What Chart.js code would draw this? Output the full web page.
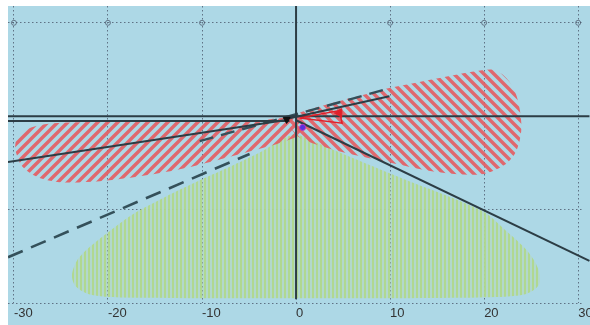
<!DOCTYPE html>
<html><head><meta charset="utf-8">
<script src="https://cdn.jsdelivr.net/npm/chart.js@4"></script>
<style>html,body{margin:0;padding:0;background:#fff;} canvas{display:block;}</style>
</head><body>
<canvas id="c" width="590" height="325"></canvas>
<script>
// ---- data ----
const xTicks = [-30, -20, -10, 0, 10, 20, 30];
const xTickLabels = ['-30', '-20', '-10', '0', '10', '20', '30'];

// left lobe of red region ("/" hatch)
const redLeftX = [-29.9, -29.67, -28.5, -26.7, -23.0, -15.55, -4.94, -0.69, 0.58, 0.37, -1.22, -4.94, -8.12, -12.37, -16.6, -20.86, -25.1, -27.44, -29.14, -29.9];
const redLeftY = [-3.56, -2.29, -1.33, -0.85, -0.65, -0.6, -0.55, -0.16, -0.8, -1.97, -2.71, -3.78, -4.63, -5.69, -6.44, -6.97, -7.07, -6.54, -5.37, -3.56];

// right lobe of red region ("\" hatch)
const redRightX = [-1.11, 0.37, 2.81, 6.74, 9.93, 13.11, 16.3, 19.27, 21.07, 22.35, 23.3, 23.83, 23.94, 23.4, 22.24, 19.69, 15.23, 9.93, 3.87, 0.37, -1.11];
const redRightY = [-0.59, 0.37, 1.12, 2.18, 3.03, 3.67, 4.31, 4.84, 4.95, 4.1, 2.6, 0.48, -1.65, -3.78, -5.16, -6.22, -6.01, -4.95, -3.56, -2.29, -0.59];

// green region (vertical hatch)
const greenX = [-0.05, 3.87, 10.99, 19.8, 22.35, 24.58, 25.74, 25.85, 24.26, 19.48, 0.37, -18.74, -21.92, -23.41, -23.83, -23.3, -21.92, -19.8, -17.14, -13.96, -10.24, -6.74, -3.66, -1.54, -0.05];
const greenY = [-1.86, -3.56, -6.54, -10.16, -12.29, -14.41, -16.33, -18.03, -19.1, -19.41, -19.5, -19.41, -19.1, -18.24, -17.07, -15.48, -13.99, -12.29, -10.37, -8.67, -6.86, -5.27, -3.78, -2.5, -1.86];

// straight lines
const axisHX = [-30.63, 31.2], axisHY = [0, 0];
const lowHX = [-30.63, -0.7], lowHY = [-0.5, -0.5];
const axisVX = [0, 0], axisVY = [11.8, -19.6];
const solidLeftX = [-30.63, -1.22], solidLeftY = [-4.9, -0.43];
const solidMidX = [-0.69, 9.93], solidMidY = [-0.21, 2.13];
const solidRightX = [0, 31.2], solidRightY = [-0.43, -15.5];
const dashLowX = [-30.63, -4.94], dashLowY = [-15.1, -4.04];
const dashMidX = [-10.24, 9.93], dashMidY = [-2.66, 2.98];

// markers
const redOutlineX = [0.37, 4.6, 4.9, 0.37], redOutlineY = [-0.2, 0.6, -0.75, -0.2];
const blackTriX = [-1.0], blackTriY = [-0.35];
const redTriX = [4.6], redTriY = [0.35];
const blueDotX = [0.7], blueDotY = [-1.2];
const gridMarkX = [-30, -20, -10, 10, 20, 30], gridMarkY = [10, 10, 10, 10, 10, 10];

const zip = (xs, ys) => xs.map((x, i) => ({x, y: ys[i]}));

// ---- patterns ----
function stripePattern(dir) {
  const s = 10, c = document.createElement('canvas');
  c.width = s; c.height = s;
  const g = c.getContext('2d');
  g.strokeStyle = 'rgba(228,92,96,0.9)';
  g.lineWidth = 3.4;
  g.beginPath();
  if (dir === '/') {
    g.moveTo(-2, s + 2); g.lineTo(s + 2, -2);
    g.moveTo(-2, 2); g.lineTo(2, -2);
    g.moveTo(s - 2, s + 2); g.lineTo(s + 2, s - 2);
  } else {
    g.moveTo(-2, -2); g.lineTo(s + 2, s + 2);
    g.moveTo(-2, s - 2); g.lineTo(2, s + 2);
    g.moveTo(s - 2, -2); g.lineTo(s + 2, 2);
  }
  g.stroke();
  return g.createPattern(c, 'repeat');
}
function vertPattern() {
  const c = document.createElement('canvas');
  c.width = 4; c.height = 4;
  const g = c.getContext('2d');
  g.fillStyle = 'rgba(176,216,140,0.95)';
  g.fillRect(0, 0, 2, 4);
  g.fillStyle = 'rgba(184,218,176,0.45)';
  g.fillRect(2, 0, 2, 4);
  return g.createPattern(c, 'repeat');
}

const bgPlugin = {
  id: 'bg',
  beforeDraw(chart) {
    const ctx = chart.ctx;
    ctx.save();
    ctx.fillStyle = '#fff';
    ctx.fillRect(0, 0, chart.width, chart.height);
    ctx.fillStyle = '#add8e6';
    ctx.fillRect(8, 6, chart.width - 8, chart.height - 6);
    ctx.restore();
  }
};

const DARK = '#2c3d45';
const line = (xs, ys, extra) => Object.assign({
  data: zip(xs, ys), showLine: true, pointRadius: 0, borderColor: DARK,
  borderWidth: 2, fill: false, order: 5, clip: {left: 0, top: 0, right: 8, bottom: 0}
}, extra || {});

new Chart(document.getElementById('c'), {
  type: 'scatter',
  data: {
    datasets: [
      {data: zip(greenX, greenY), showLine: true, pointRadius: 0, borderWidth: 0, borderColor: 'rgba(0,0,0,0)',
       backgroundColor: vertPattern(), fill: 'shape', tension: 0.3, order: 12},
      {data: zip(redLeftX, redLeftY), showLine: true, pointRadius: 0, borderWidth: 0, borderColor: 'rgba(0,0,0,0)',
       backgroundColor: stripePattern('/'), fill: 'shape', tension: 0.3, order: 11},
      {data: zip(redRightX, redRightY), showLine: true, pointRadius: 0, borderWidth: 0, borderColor: 'rgba(0,0,0,0)',
       backgroundColor: stripePattern('\\'), fill: 'shape', tension: 0.3, order: 10},
      line(axisHX, axisHY),
      line(lowHX, lowHY),
      line(axisVX, axisVY),
      line(solidLeftX, solidLeftY),
      line(solidMidX, solidMidY),
      line(solidRightX, solidRightY),
      line(dashLowX, dashLowY, {borderDash: [16, 9], borderWidth: 2.6, borderColor: '#34505a'}),
      line(dashMidX, dashMidY, {borderDash: [14, 8], borderWidth: 2.4, borderColor: '#34505a'}),
      line(redOutlineX, redOutlineY, {borderColor: '#e0202a', borderWidth: 1.5, order: 3}),
      {data: zip(blackTriX, blackTriY), pointStyle: 'triangle', rotation: 180, pointRadius: 4,
       backgroundColor: '#111', borderColor: '#111', order: 2},
      {data: zip(redTriX, redTriY), pointStyle: 'triangle', rotation: -90, pointRadius: 5,
       backgroundColor: '#e0202a', borderColor: '#e0202a', order: 2},
      {data: zip(blueDotX, blueDotY), pointStyle: 'circle', pointRadius: 3,
       backgroundColor: '#5533dd', borderColor: '#c030c0', borderWidth: 1, order: 1},
      {data: zip(gridMarkX, gridMarkY), pointStyle: 'circle', pointRadius: 2.5,
       backgroundColor: 'rgba(0,0,0,0)', borderColor: 'rgba(70,80,100,0.7)', borderWidth: 1, order: 20}
    ]
  },
  options: {
    responsive: false,
    animation: false,
    devicePixelRatio: 1,
    layout: {padding: {left: 8, top: 6, right: 0, bottom: 0}},
    plugins: {legend: {display: false}, tooltip: {enabled: false}},
    scales: {
      x: {
        type: 'linear', min: -30.63, max: 30.62,
        afterFit: (s) => { s.paddingLeft = 0; s.paddingRight = 0; s.height = 22; },
        ticks: {
          stepSize: 10, includeBounds: false, align: 'start', padding: 3,
          color: '#333', font: {family: 'Liberation Sans', size: 13},
          callback: (v) => { const i = xTicks.indexOf(v); return i >= 0 ? xTickLabels[i] : ''; }
        },
        grid: {color: 'rgba(70,80,100,0.75)', lineWidth: 1, drawTicks: false},
        border: {display: false, dash: [1.5, 2.5]}
      },
      y: {
        type: 'linear', min: -20, max: 11.8,
        ticks: {display: false, stepSize: 10, includeBounds: false},
        grid: {color: 'rgba(70,80,100,0.75)', lineWidth: 1, drawTicks: false},
        border: {display: false, dash: [1.5, 2.5]}
      }
    }
  },
  plugins: [bgPlugin]
});
</script>
</body></html>
